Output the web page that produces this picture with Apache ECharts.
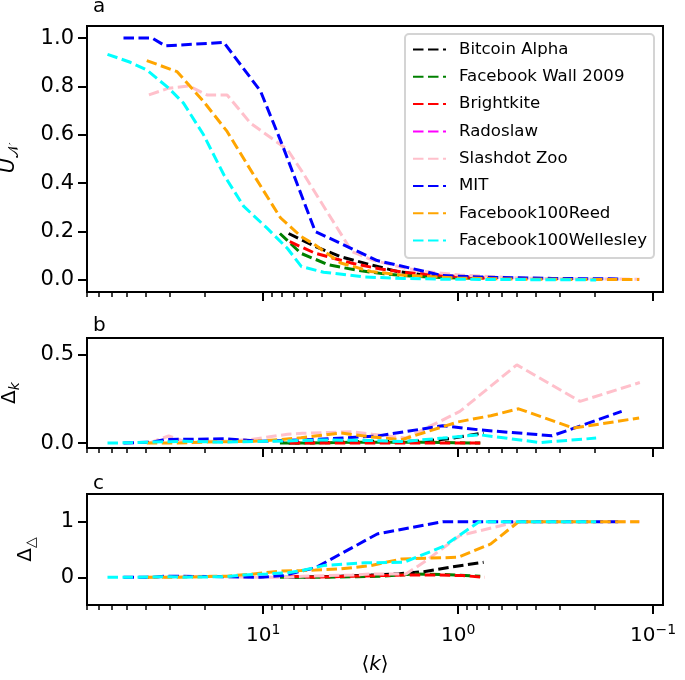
<!DOCTYPE html>
<html>
<head>
<meta charset="utf-8">
<script src="https://cdn.jsdelivr.net/npm/echarts@6/dist/echarts.min.js"></script>
<style>html,body{margin:0;padding:0;background:#fff}#c{width:685px;height:680px}</style>
</head>
<body>
<div id="c"></div>
<script>
// ---------------- data ----------------
const seriesNames = ['Bitcoin Alpha','Facebook Wall 2009','Brightkite','Radoslaw','Slashdot Zoo','MIT','Facebook100Reed','Facebook100Wellesley'];
const seriesColors = ['#000000','#008000','#ff0000','#ff00ff','#ffc0cb','#0000ff','#ffa500','#00ffff'];

// Bitcoin Alpha
const btcK = [7.4, 5.4, 4.0, 2.8, 2.05, 1.5, 1.1, 0.74];
const btcU = [0.192, 0.138, 0.096, 0.062, 0.035, 0.02, 0.012, 0.008];
const btcDk = [0.0, 0.002, 0.005, 0.01, 0.008, 0.012, 0.025, 0.057];
const btcDt = [0.0, 0.01, 0.02, 0.04, 0.06, 0.1, 0.18, 0.27];
// Facebook Wall 2009
const fbwK = [8.2, 6.4, 4.6, 3.3, 2.4, 1.7, 1.2, 0.77];
const fbwU = [0.192, 0.11, 0.062, 0.04, 0.025, 0.015, 0.01, 0.006];
const fbwDk = [0.0, 0.0, 0.002, 0.005, 0.005, 0.005, 0.003, 0.0];
const fbwDt = [0.0, 0.0, 0.0, 0.01, 0.02, 0.06, 0.05, 0.02];
// Brightkite
const brkK = [7.3, 5.4, 3.5, 2.5, 1.8, 1.3, 0.95, 0.73];
const brkU = [0.158, 0.11, 0.069, 0.045, 0.03, 0.02, 0.012, 0.008];
const brkDk = [0.0, 0.0, 0.0, 0.0, 0.0, 0.0, 0.0, 0.0];
const brkDt = [0.02, 0.0, 0.02, 0.03, 0.04, 0.04, 0.03, 0.0];
// Radoslaw (not visible in the plot)
const radK = [];
const radU = [];
const radDk = [];
const radDt = [];
// Slashdot Zoo
const sdzK = [38.5, 30.5, 24.0, 19.4, 15.3, 11.6, 7.5, 6.3, 4.7, 3.5, 2.75, 1.85, 1.5, 0.98, 0.5, 0.237, 0.117];
const sdzU = [0.765, 0.793, 0.802, 0.765, 0.765, 0.648, 0.539, 0.447, 0.282, 0.117, 0.082, 0.048, 0.035, 0.02, 0.008, 0.004, 0.003];
const sdzDk = [0.0, 0.04, 0.0, 0.01, 0.01, 0.02, 0.05, 0.055, 0.06, 0.064, 0.05, 0.028, 0.078, 0.179, 0.443, 0.236, 0.343];
const sdzDt = [0.0, 0.0, 0.01, 0.02, 0.01, 0.0, 0.0, 0.02, 0.03, 0.04, 0.06, 0.06, 0.27, 0.75, 1.0, 1.0, 1.0];
// MIT
const mitK = [52, 37, 31.8, 15.9, 10.3, 7.9, 5.4, 2.6, 1.2, 0.78, 0.33, 0.145];
const mitU = [1.0, 1.0, 0.968, 0.982, 0.78, 0.55, 0.2, 0.08, 0.018, 0.012, 0.006, 0.004];
const mitDk = [0.0, 0.005, 0.02, 0.024, 0.01, 0.015, 0.02, 0.04, 0.098, 0.075, 0.041, 0.179];
const mitDt = [0.0, 0.0, 0.02, 0.01, 0.0, 0.03, 0.17, 0.78, 1.0, 1.0, 1.0, 1.0];
// Facebook100Reed
const reeK = [39.5, 27.6, 20.2, 15.3, 11.2, 8.15, 6.4, 5.4, 4.0, 2.8, 1.95, 1.0, 0.68, 0.49, 0.256, 0.118];
const reeU = [0.907, 0.861, 0.738, 0.614, 0.435, 0.257, 0.18, 0.144, 0.07, 0.035, 0.02, 0.008, 0.005, 0.003, 0.002, 0.002];
const reeDk = [0.0, 0.0, 0.005, 0.008, 0.01, 0.02, 0.03, 0.04, 0.057, 0.035, 0.019, 0.12, 0.155, 0.194, 0.085, 0.142];
const reeDt = [0.0, 0.0, 0.01, 0.02, 0.06, 0.11, 0.12, 0.13, 0.15, 0.21, 0.33, 0.36, 0.6, 1.0, 1.0, 1.0];
// Facebook100Wellesley
const welK = [62.8, 48, 39.5, 30.5, 25.6, 20.2, 15.9, 12.6, 9.6, 7.5, 6.36, 4.9, 3.0, 1.9, 1.2, 0.78, 0.38, 0.196];
const welU = [0.933, 0.90, 0.868, 0.793, 0.731, 0.6, 0.435, 0.305, 0.216, 0.13, 0.055, 0.032, 0.012, 0.006, 0.003, 0.002, 0.001, 0.0];
const welDk = [0.0, 0.002, 0.005, 0.008, 0.01, 0.008, 0.005, 0.008, 0.01, 0.012, 0.015, 0.018, 0.015, 0.009, 0.028, 0.047, 0.003, 0.028];
const welDt = [0.0, 0.0, 0.005, 0.01, 0.0, 0.005, 0.01, 0.04, 0.06, 0.08, 0.12, 0.21, 0.26, 0.27, 0.55, 1.0, 1.0, 1.0];

// axis ticks
const xMajorTicks = [0.1, 1, 10];
const xMinorTicks = [0.2,0.3,0.4,0.5,0.6,0.7,0.8,0.9,2,3,4,5,6,7,8,9,20,30,40,50,60,70,80];
const yTicksA = [0, 0.2, 0.4, 0.6, 0.8, 1.0];
const yTicksB = [0, 0.5];
const yTicksC = [0, 1];

// ---------------- chart ----------------
const K = [btcK, fbwK, brkK, radK, sdzK, mitK, reeK, welK];
const panels = [
  [btcU, fbwU, brkU, radU, sdzU, mitU, reeU, welU],
  [btcDk, fbwDk, brkDk, radDk, sdzDk, mitDk, reeDk, welDk],
  [btcDt, fbwDt, brkDt, radDt, sdzDt, mitDt, reeDt, welDt]
];
const FONT = 'DejaVu Sans';
const XMIN = 0.089, XMAX = 80;

const grids = [
  {left: 87, top: 26, width: 576, height: 266},
  {left: 87, top: 338, width: 576, height: 110},
  {left: 87, top: 494, width: 576, height: 111}
].map(g => Object.assign(g, {show: true, borderColor: '#000', borderWidth: 2, backgroundColor: 'transparent',
  containLabel: false, outerBoundsMode: 'none'}));

function supLabel(v) {
  const e = Math.round(Math.log10(v));
  return '{b|10}{e|' + (e < 0 ? '\u2212' + (-e) : e) + '}';
}

const xAxes = [];
[0,1,2].forEach(gi => {
  xAxes.push({
    type: 'log', logBase: 10, gridIndex: gi, inverse: true, min: XMIN, max: XMAX, position: 'bottom',
    axisLine: {show: false, onZero: false},
    axisTick: {show: true, customValues: xMajorTicks, length: 9, lineStyle: {color: '#000', width: 2}},
    axisLabel: gi === 2 ? {show: true, customValues: xMajorTicks, formatter: supLabel, margin: 18,
      rich: {b: {fontFamily: FONT, fontSize: 20, color: '#000'}, e: {fontFamily: FONT, fontSize: 14, color: '#000', padding: [0,0,12,0]}}} : {show: false},
    splitLine: {show: false},
    name: gi === 2 ? '{p|\u27E8}{k|k}{p|\u27E9}' : '',
    nameLocation: 'middle', nameGap: 50,
    nameTextStyle: {rich: {p: {fontFamily: FONT, fontSize: 20, color: '#000'}, k: {fontFamily: FONT, fontStyle: 'italic', fontSize: 20, color: '#000'}}}
  });
  xAxes.push({
    type: 'log', logBase: 10, gridIndex: gi, inverse: true, min: XMIN, max: XMAX, position: 'bottom',
    axisLine: {show: false, onZero: false},
    axisTick: {show: true, customValues: xMinorTicks, length: 5, lineStyle: {color: '#000', width: 1.5}},
    axisLabel: {show: false},
    splitLine: {show: false}
  });
});

const yRich = {
  i: {fontFamily: FONT, fontStyle: 'italic', fontSize: 21, color: '#000'},
  d: {fontFamily: FONT, fontSize: 20, color: '#000'},
  s: {fontFamily: FONT, fontSize: 14, color: '#000', padding: [10,0,0,0]},
  si: {fontFamily: FONT, fontStyle: 'italic', fontSize: 14, color: '#000', padding: [10,0,0,0]}
};
function yAxis(gi, min, max, ticks, fmt, name, gap) {
  return {
    type: 'value', gridIndex: gi, min: min, max: max,
    axisLine: {show: false, onZero: false},
    axisTick: {show: true, customValues: ticks, length: 9, lineStyle: {color: '#000', width: 2}},
    axisLabel: {show: true, customValues: ticks, formatter: fmt, margin: 13, color: '#000', fontFamily: FONT, fontSize: 21},
    splitLine: {show: false},
    name: name, nameLocation: 'middle', nameRotate: 90, nameGap: gap,
    nameTextStyle: {rich: yRich}
  };
}
const yAxes = [
  yAxis(0, -0.05, 1.05, yTicksA, v => v.toFixed(1), '{i|U}{s|\uD835\uDCA9}', 66),
  yAxis(1, -0.028, 0.595, yTicksB, v => v.toFixed(1), '{d|\u0394}{si|k}', 65),
  yAxis(2, -0.5, 1.5, yTicksC, v => v.toFixed(0), '{d|\u0394}{s|\u25B3}', 49)
];

const series = [];
panels.forEach((vals, gi) => {
  vals.forEach((ys, si) => {
    series.push({
      name: seriesNames[si], type: 'line', xAxisIndex: gi * 2, yAxisIndex: gi,
      data: K[si].map((k, j) => [k, ys[j]]),
      symbol: 'none', showSymbol: false, smooth: false, animation: false,
      color: seriesColors[si],
      lineStyle: {color: seriesColors[si], width: 3, type: [10.5, 4.5]}
    });
  });
});

const chart = echarts.init(document.getElementById('c'), null, {renderer: 'canvas'});
chart.setOption({
  animation: false,
  backgroundColor: '#fff',
  title: [
    {text: 'a', left: 93, top: -3, textStyle: {fontFamily: FONT, fontSize: 20, fontWeight: 'normal', color: '#000'}, padding: 0},
    {text: 'b', left: 93, top: 316, textStyle: {fontFamily: FONT, fontSize: 20, fontWeight: 'normal', color: '#000'}, padding: 0},
    {text: 'c', left: 93, top: 474, textStyle: {fontFamily: FONT, fontSize: 20, fontWeight: 'normal', color: '#000'}, padding: 0}
  ],
  grid: grids,
  xAxis: xAxes,
  yAxis: yAxes,
  legend: {
    data: seriesNames, orient: 'vertical', left: 405, top: 34,
    itemWidth: 33, itemHeight: 14, itemGap: 10.3,
    padding: [7, 7, 9, 7],
    itemStyle: {opacity: 0},
    backgroundColor: 'rgba(255,255,255,0.8)', borderColor: '#d4d4d4', borderWidth: 2, borderRadius: 4,
    textStyle: {fontFamily: FONT, fontSize: 16.6, color: '#000', padding: [0,0,0,8]},
    selectedMode: false
  },
  series: series
});
</script>
</body>
</html>
